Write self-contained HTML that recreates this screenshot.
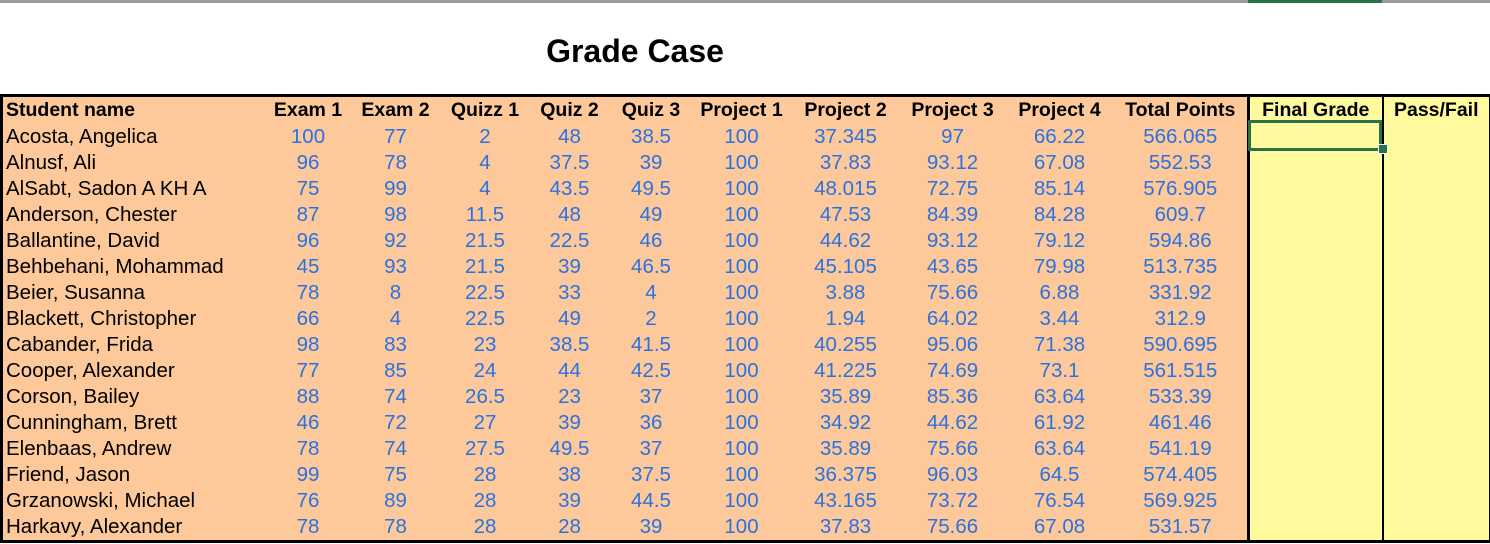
<!DOCTYPE html>
<html><head><meta charset="utf-8"><style>
body{margin:0;width:1490px;height:544px;background:#fff;position:relative;overflow:hidden;font-family:"Liberation Sans",Arial,sans-serif}
.top{position:absolute;left:0;top:0;width:1490px;height:3px;background:#9a9a9a}
.title{position:absolute;left:0;width:1270px;text-align:center;top:33px;font-weight:bold;font-size:32px}
table{position:absolute;left:0;top:94px;border-collapse:collapse;table-layout:fixed;width:1489px}
td{height:26px;padding:0;font-size:20.5px;line-height:26px;text-align:center;color:#2a72e0;white-space:nowrap;overflow:hidden}
tr.h td{font-weight:bold;color:#000;height:24px;line-height:27px;font-size:19.5px}
td.n{text-align:left;padding-left:3px;color:#000;background:#fdc99b}
td{background:#fdc99b}
td.y{background:#fffa9d}
</style></head><body>
<div class="top"></div>
<div class="title">Grade Case</div>
<table style="border:3px solid #000">
<colgroup><col style="width:265px"><col style="width:83px"><col style="width:92px"><col style="width:87px"><col style="width:82px"><col style="width:81px"><col style="width:100px"><col style="width:108px"><col style="width:106px"><col style="width:108px"><col style="width:135px"><col style="width:134px"><col style="width:108px"></colgroup>
<tr class="h"><td class="n">Student name</td><td>Exam 1</td><td>Exam 2</td><td>Quizz 1</td><td>Quiz 2</td><td>Quiz 3</td><td>Project 1</td><td>Project 2</td><td>Project 3</td><td>Project 4</td><td>Total Points</td><td class="y" style="border-left:3px solid #000">Final Grade</td><td class="y" style="border-left:2px solid #000">Pass/Fail</td></tr>
<tr><td class="n">Acosta, Angelica</td><td>100</td><td>77</td><td>2</td><td>48</td><td>38.5</td><td>100</td><td>37.345</td><td>97</td><td>66.22</td><td>566.065</td><td class="y" style="border-left:3px solid #000"></td><td class="y" style="border-left:2px solid #000"></td></tr>
<tr><td class="n">Alnusf, Ali</td><td>96</td><td>78</td><td>4</td><td>37.5</td><td>39</td><td>100</td><td>37.83</td><td>93.12</td><td>67.08</td><td>552.53</td><td class="y" style="border-left:3px solid #000"></td><td class="y" style="border-left:2px solid #000"></td></tr>
<tr><td class="n">AlSabt, Sadon A KH A</td><td>75</td><td>99</td><td>4</td><td>43.5</td><td>49.5</td><td>100</td><td>48.015</td><td>72.75</td><td>85.14</td><td>576.905</td><td class="y" style="border-left:3px solid #000"></td><td class="y" style="border-left:2px solid #000"></td></tr>
<tr><td class="n">Anderson, Chester</td><td>87</td><td>98</td><td>11.5</td><td>48</td><td>49</td><td>100</td><td>47.53</td><td>84.39</td><td>84.28</td><td>609.7</td><td class="y" style="border-left:3px solid #000"></td><td class="y" style="border-left:2px solid #000"></td></tr>
<tr><td class="n">Ballantine, David</td><td>96</td><td>92</td><td>21.5</td><td>22.5</td><td>46</td><td>100</td><td>44.62</td><td>93.12</td><td>79.12</td><td>594.86</td><td class="y" style="border-left:3px solid #000"></td><td class="y" style="border-left:2px solid #000"></td></tr>
<tr><td class="n">Behbehani, Mohammad</td><td>45</td><td>93</td><td>21.5</td><td>39</td><td>46.5</td><td>100</td><td>45.105</td><td>43.65</td><td>79.98</td><td>513.735</td><td class="y" style="border-left:3px solid #000"></td><td class="y" style="border-left:2px solid #000"></td></tr>
<tr><td class="n">Beier, Susanna</td><td>78</td><td>8</td><td>22.5</td><td>33</td><td>4</td><td>100</td><td>3.88</td><td>75.66</td><td>6.88</td><td>331.92</td><td class="y" style="border-left:3px solid #000"></td><td class="y" style="border-left:2px solid #000"></td></tr>
<tr><td class="n">Blackett, Christopher</td><td>66</td><td>4</td><td>22.5</td><td>49</td><td>2</td><td>100</td><td>1.94</td><td>64.02</td><td>3.44</td><td>312.9</td><td class="y" style="border-left:3px solid #000"></td><td class="y" style="border-left:2px solid #000"></td></tr>
<tr><td class="n">Cabander, Frida</td><td>98</td><td>83</td><td>23</td><td>38.5</td><td>41.5</td><td>100</td><td>40.255</td><td>95.06</td><td>71.38</td><td>590.695</td><td class="y" style="border-left:3px solid #000"></td><td class="y" style="border-left:2px solid #000"></td></tr>
<tr><td class="n">Cooper, Alexander</td><td>77</td><td>85</td><td>24</td><td>44</td><td>42.5</td><td>100</td><td>41.225</td><td>74.69</td><td>73.1</td><td>561.515</td><td class="y" style="border-left:3px solid #000"></td><td class="y" style="border-left:2px solid #000"></td></tr>
<tr><td class="n">Corson, Bailey</td><td>88</td><td>74</td><td>26.5</td><td>23</td><td>37</td><td>100</td><td>35.89</td><td>85.36</td><td>63.64</td><td>533.39</td><td class="y" style="border-left:3px solid #000"></td><td class="y" style="border-left:2px solid #000"></td></tr>
<tr><td class="n">Cunningham, Brett</td><td>46</td><td>72</td><td>27</td><td>39</td><td>36</td><td>100</td><td>34.92</td><td>44.62</td><td>61.92</td><td>461.46</td><td class="y" style="border-left:3px solid #000"></td><td class="y" style="border-left:2px solid #000"></td></tr>
<tr><td class="n">Elenbaas, Andrew</td><td>78</td><td>74</td><td>27.5</td><td>49.5</td><td>37</td><td>100</td><td>35.89</td><td>75.66</td><td>63.64</td><td>541.19</td><td class="y" style="border-left:3px solid #000"></td><td class="y" style="border-left:2px solid #000"></td></tr>
<tr><td class="n">Friend, Jason</td><td>99</td><td>75</td><td>28</td><td>38</td><td>37.5</td><td>100</td><td>36.375</td><td>96.03</td><td>64.5</td><td>574.405</td><td class="y" style="border-left:3px solid #000"></td><td class="y" style="border-left:2px solid #000"></td></tr>
<tr><td class="n">Grzanowski, Michael</td><td>76</td><td>89</td><td>28</td><td>39</td><td>44.5</td><td>100</td><td>43.165</td><td>73.72</td><td>76.54</td><td>569.925</td><td class="y" style="border-left:3px solid #000"></td><td class="y" style="border-left:2px solid #000"></td></tr>
<tr><td class="n">Harkavy, Alexander</td><td>78</td><td>78</td><td>28</td><td>28</td><td>39</td><td>100</td><td>37.83</td><td>75.66</td><td>67.08</td><td>531.57</td><td class="y" style="border-left:3px solid #000"></td><td class="y" style="border-left:2px solid #000"></td></tr>
</table>
<div style="position:absolute;left:1248px;top:0;width:134px;height:3px;background:#2a7048"></div>
<div style="position:absolute;left:1248px;top:120px;width:128px;height:25px;border:3px solid #2a7048"></div>
<div style="position:absolute;left:1378px;top:144px;width:8px;height:8px;background:#2a7048;border:1px solid #fff"></div>
</body></html>
